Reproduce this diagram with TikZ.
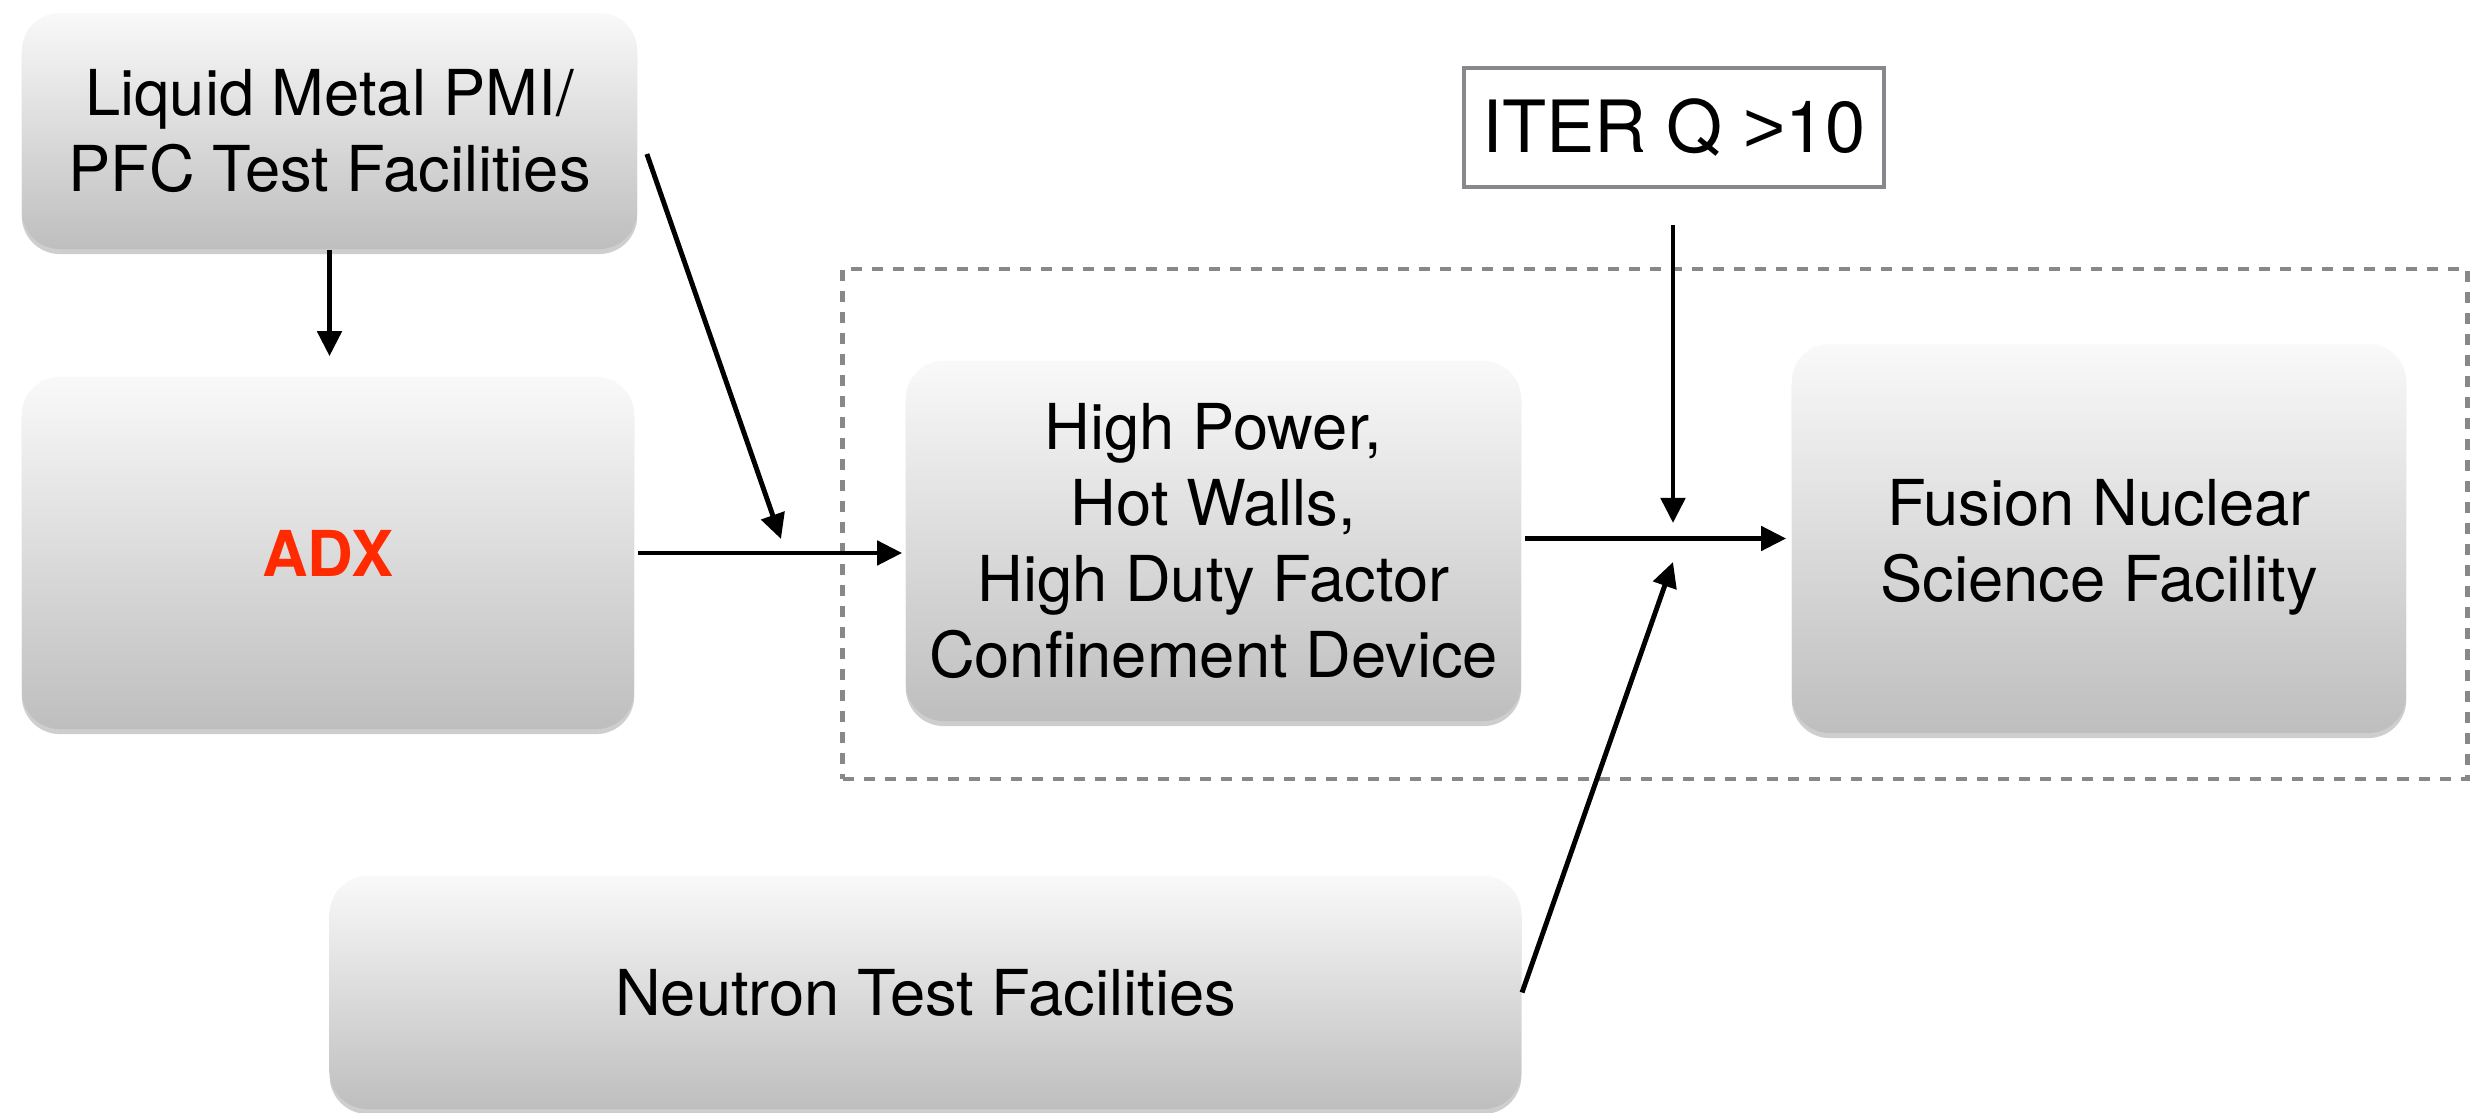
\documentclass[tikz,border=0pt]{standalone}
\usepackage{fontspec}
\setmainfont{TeX Gyre Heros}
\newfontfamily\libsans{Liberation Sans}
\usetikzlibrary{arrows.meta,shadows}
\definecolor{boxtop}{HTML}{F9F9F9}
\definecolor{boxbot}{HTML}{BEBEBE}
\definecolor{framegray}{HTML}{87878C}
\definecolor{adxred}{HTML}{FF2A00}
\begin{document}
\begin{tikzpicture}[x=0.01cm,y=-0.01cm,
  gbox/.style={rounded corners=0.38cm, top color=boxtop, bottom color=boxbot,
    draw=none, align=center, inner sep=0pt,
    font=\fontsize{18}{21.6}\selectfont,
    drop shadow={shadow xshift=0cm, shadow yshift=-0.05cm, opacity=0.35, fill=black!55}},
  iterbox/.style={draw=framegray, line width=1.2pt, fill=white, inner sep=0pt,
    font=\fontsize{20.5}{24}\selectfont},
  dashbox/.style={draw=framegray, line width=1.3pt, dash pattern=on 0.11cm off 0.10cm, inner sep=0pt},
  arr/.style={draw=black, line width=1.4pt, -{Triangle[length=0.25cm,width=0.24cm]}}]
\fill[white] (0,0) rectangle (2484,1113);
\useasboundingbox (0,0) rectangle (2484,1113);

\node[dashbox, minimum width=16.24cm, minimum height=5.10cm] (grp) at (1655,524) {};

\node[gbox, minimum width=6.15cm, minimum height=2.36cm] (lm) at (329.5,131)
  {Liquid Metal PMI/\\PFC Test Facilities};
\node[gbox, minimum width=6.12cm, minimum height=3.52cm] (adx) at (328,553)
  {\fontsize{18}{21.6}\selectfont\bfseries\color{adxred}ADX};
\node[gbox, minimum width=6.15cm, minimum height=3.60cm] (hp) at (1213.5,541)
  {High Power,\\Hot Walls,\\High Duty Factor\\Confinement Device};
\node[gbox, minimum width=6.14cm, minimum height=3.89cm] (fnsf) at (2099,538.5)
  {\rule{0pt}{0.64cm}Fusion Nuclear\\Science Facility};
\node[gbox, minimum width=11.91cm, minimum height=2.33cm] (neu) at (925.5,992.5)
  {Neutron Test Facilities};
\node[iterbox, minimum width=4.20cm, minimum height=1.19cm] (iter) at (1674,127.5)
  {ITER Q {\libsans >}10};

\coordinate (j1) at (781,539);
\coordinate (itertail) at (1673,225);
\coordinate (j2) at (1673,523);
\coordinate (j3) at (1673,562);

\draw[arr, shorten >=0.2cm] (lm.south) -- (lm.south |- adx.north);
\draw[arr] ([xshift=0.09cm,yshift=-0.23cm]lm.east) -- (j1);
\draw[arr, shorten <=0.03cm, shorten >=0.03cm] (adx.east) -- (adx.east -| hp.west);
\draw[arr, shorten <=0.03cm, shorten >=0.05cm] (hp.east |- fnsf.west) -- (fnsf.west);
\draw[arr] (itertail) -- (j2);
\draw[arr] (neu.east) -- (j3);
\end{tikzpicture}
\end{document}
